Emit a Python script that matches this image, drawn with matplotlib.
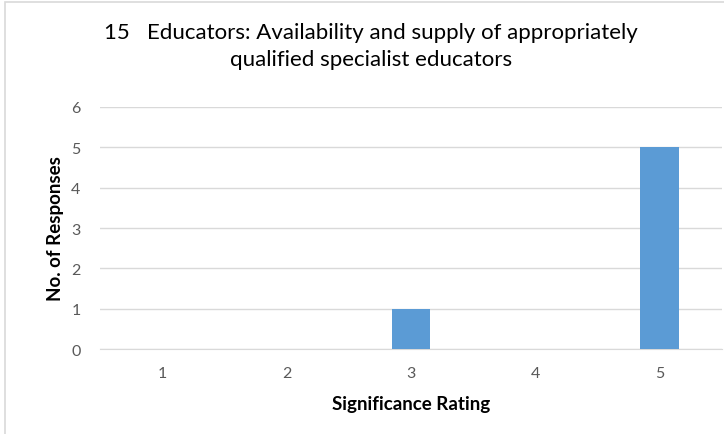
import matplotlib
matplotlib.use("Agg")
import matplotlib.pyplot as plt
from matplotlib.patches import Rectangle

ratings = ["1", "2", "3", "4", "5"]
responses = [0, 0, 1, 0, 5]
y_ticks = [0, 1, 2, 3, 4, 5, 6]

plt.rcParams['font.family'] = ['Lato', 'DejaVu Sans']

fig = plt.figure(figsize=(7.24, 4.35), dpi=100)
ax = fig.add_axes([0.138, 0.195, 0.859, 0.557])

x = range(len(ratings))
ax.bar(x, responses, width=0.31, color='#5B9BD5', zorder=3)

ax.set_xlim(-0.5, len(ratings) - 0.5)
ax.set_ylim(0, 6)
ax.set_yticks(y_ticks)
ax.set_xticks(list(x))
ax.set_xticklabels(ratings)
ax.yaxis.grid(True, color='#D9D9D9', linewidth=1)
ax.set_axisbelow(True)
for s in ['top', 'right', 'left']:
    ax.spines[s].set_visible(False)
ax.spines['bottom'].set_color('#D9D9D9')
ax.tick_params(axis='both', length=0, colors='#595959', labelsize=11.5)
ax.tick_params(axis='x', pad=12)
ax.tick_params(axis='y', pad=14)

ax.set_xlabel('Significance Rating', fontsize=13.5, fontweight='bold', labelpad=11)
ax.set_ylabel('No. of Responses', fontsize=13.5, fontweight='bold', labelpad=5)

fig.text(0.512, 0.925, "15   Educators: Availability and supply of appropriately",
         ha='center', va='center', fontsize=16, color='black')
fig.text(0.512, 0.862, "qualified specialist educators",
         ha='center', va='center', fontsize=16, color='black')

fig.patches.append(Rectangle((5 / 724, -0.1), 1.2, 1.1 - 3 / 435, transform=fig.transFigure,
                             fill=False, edgecolor='#D9D9D9', linewidth=1.2))

fig.savefig('out.png', dpi=100)
